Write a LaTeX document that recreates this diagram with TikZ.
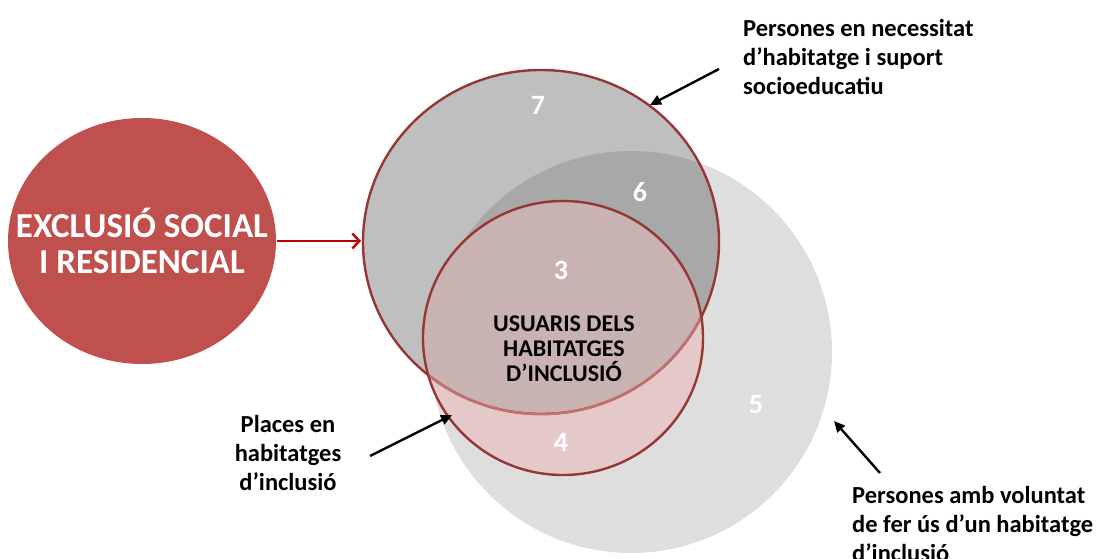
\documentclass[tikz,border=0pt]{standalone}
\usepackage{fontspec}
\setmainfont{Carlito}
\usetikzlibrary{arrows.meta}

\definecolor{exclred}{RGB}{192,80,77}
\definecolor{ringred}{RGB}{149,55,53}
\definecolor{fadedred}{RGB}{196,112,110}
\definecolor{arrowred}{RGB}{192,0,0}
\definecolor{volgrey}{RGB}{222,222,222}
\definecolor{necgrey}{RGB}{191,191,191}
\definecolor{overgrey}{RGB}{168,168,168}
\definecolor{plapink}{RGB}{229,201,201}
\definecolor{usupink}{RGB}{201,178,178}

\tikzset{
  ring/.style={draw=ringred, line width=2.4pt},
  num/.style={text=white, font=\bfseries\fontsize{28}{30}\selectfont},
  label/.style={inner sep=0pt, font=\bfseries\fontsize{24.5}{29}\selectfont},
  pointer/.style={line width=2.4pt, -{Triangle[length=11pt,width=10pt]}}
}

\begin{document}
\begin{tikzpicture}[x=1pt, y=-1pt]
  \useasboundingbox (0,0) rectangle (1101,559);

  % Exclusion: red disc on the left
  \fill[exclred] (142,241) ellipse[x radius=134pt, y radius=123pt];
  \node[text=white, align=center, font=\bfseries\fontsize{35}{36.7}\selectfont]
        (excl) at (142,241) {EXCLUSIÓ SOCIAL\\I RESIDENCIAL};

  % Light circle: persons willing to use a dwelling
  \fill[volgrey] (631,352) circle[radius=201pt];
  % Dark circle: persons in need
  \fill[necgrey] (541,242) ellipse[x radius=178pt, y radius=172pt];
  \begin{scope}
    \clip (631,352) circle[radius=201pt];
    \fill[overgrey] (541,242) ellipse[x radius=178pt, y radius=172pt];
  \end{scope}
  % Inner circle: places
  \fill[plapink] (563,338) ellipse[x radius=140pt, y radius=137pt];
  \begin{scope}
    \clip (541,242) ellipse[x radius=178pt, y radius=172pt];
    \fill[usupink] (563,338) ellipse[x radius=140pt, y radius=137pt];
  \end{scope}
  % Outlines
  \draw[ring] (541,242) ellipse[x radius=178pt, y radius=172pt];
  \begin{scope}
    \clip (563,338) ellipse[x radius=140pt, y radius=137pt];
    \draw[ring, draw=fadedred] (541,242) ellipse[x radius=178pt, y radius=172pt];
  \end{scope}
  \draw[ring] (563,338) ellipse[x radius=140pt, y radius=137pt];

  % Counts
  \node[num] (n7) at (538,105) {7};
  \node[num] (n6) at (640,192) {6};
  \node[num] (n3) at (561,270) {3};
  \node[num] (n5) at (756,405) {5};
  \node[num] (n4) at (561,442) {4};
  \node[align=center, font=\bfseries\fontsize{24}{25}\selectfont]
        (usu) at (564,349) {USUARIS DELS\\HABITATGES\\D’INCLUSIÓ};

  % Labels
  \node[label, anchor=north west, align=left] (necess) at (743,19)
        {Persones en necessitat\\d’habitatge i suport\\socioeducatiu};
  \node[label, anchor=north, align=center] (places) at (288,415)
        {Places en\\habitatges\\d’inclusió};
  \node[label, anchor=north west, align=left] (volunt) at (852,486)
        {Persones amb voluntat\\de fer ús d’un habitatge\\d’inclusió};

  % Arrows
  \coordinate (exclEast) at (277,241);
  \coordinate (necWest) at (361,241);
  \coordinate (necTail) at (719,69);
  \coordinate (necTip) at (650,105);
  \coordinate (plaTail) at (370,456);
  \coordinate (plaTip) at (452,415);
  \coordinate (volTail) at (880,473);
  \coordinate (volTip) at (834,421);
  \draw[line width=2.4pt, arrowred, -{Straight Barb[length=7pt,width=15pt]}] (exclEast) -- (necWest);
  \draw[pointer] (necTail) -- (necTip);
  \draw[pointer] (plaTail) -- (plaTip);
  \draw[pointer] (volTail) -- (volTip);
\end{tikzpicture}
\end{document}
